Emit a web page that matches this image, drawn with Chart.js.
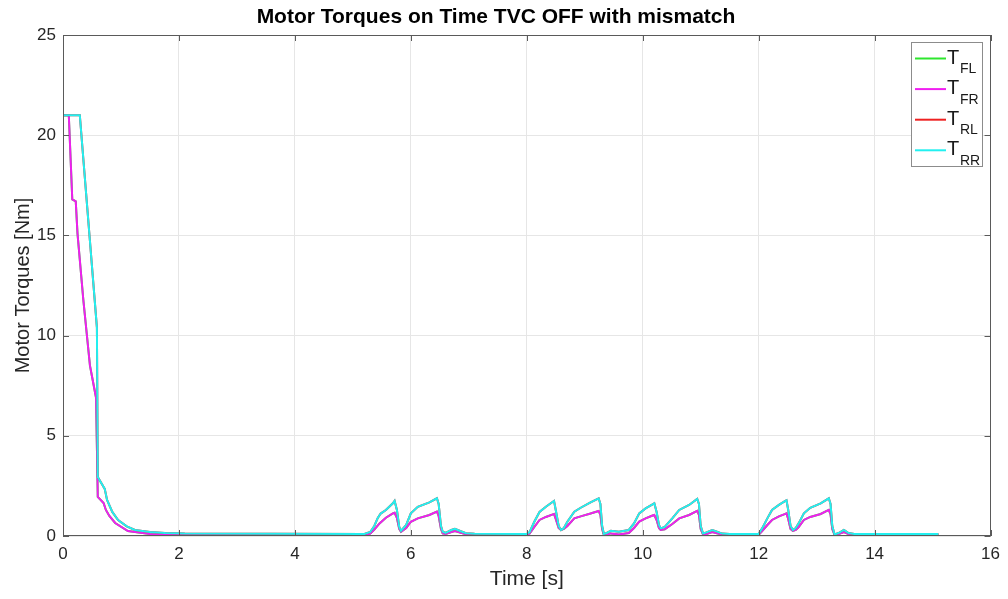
<!DOCTYPE html>
<html>
<head>
<meta charset="utf-8">
<script src="https://cdn.jsdelivr.net/npm/chart.js@4.4.1/dist/chart.umd.min.js"></script>
<style>
  html, body { margin: 0; padding: 0; background: #ffffff; }
  #wrap { width: 1008px; height: 599px; }
</style>
</head>
<body>
<div id="wrap"><canvas id="torques" width="1008" height="599"></canvas></div>
<script>
// Wheel names and line colours (FL, FR, RL, RR)
const wheelNames = ['FL', 'FR', 'RL', 'RR'];
const lineColors = ['#2ee62e', '#f01ef0', '#ee2222', '#22f0f0'];

// Front axle torque trace [s], [Nm]
const timeFront = [
  0, 0.1, 0.16, 0.22, 0.25, 0.35, 0.465, 0.57, 0.6, 0.7, 0.74, 0.8, 0.9, 1.12, 1.5, 2.0, 5.2,
  5.3, 5.37, 5.46, 5.57, 5.69, 5.72, 5.76, 5.8, 5.83, 5.92, 6.0, 6.12, 6.32, 6.45, 6.48, 6.52, 6.55, 6.6, 6.7, 6.76, 6.85, 6.95, 7.1, 8.0,
  8.05, 8.13, 8.22, 8.33, 8.45, 8.47, 8.5, 8.55, 8.59, 8.64, 8.7, 8.82, 8.93, 9.1, 9.24, 9.27, 9.3, 9.33, 9.38, 9.45, 9.59, 9.76,
  9.85, 9.94, 10.05, 10.17, 10.2, 10.24, 10.28, 10.31, 10.38, 10.51, 10.63, 10.8, 10.94, 10.97, 11.0, 11.04, 11.1, 11.2, 11.28, 11.37, 11.5, 12.0,
  12.06, 12.15, 12.23, 12.35, 12.46, 12.48, 12.51, 12.55, 12.59, 12.64, 12.69, 12.78, 12.89, 13.07, 13.21, 13.24, 13.27, 13.31, 13.38, 13.47, 13.55, 13.65, 15.1
];
const torqueFront = [
  21, 21, 16.8, 16.7, 15.1, 11.8, 8.5, 6.9, 1.95, 1.65, 1.3, 1.0, 0.65, 0.25, 0.1, 0.07, 0.06,
  0.12, 0.32, 0.63, 0.91, 1.13, 1.16, 0.9, 0.35, 0.21, 0.4, 0.71, 0.88, 1.05, 1.22, 1.0, 0.35, 0.13, 0.1, 0.2, 0.25, 0.17, 0.09, 0.07, 0.06,
  0.13, 0.45, 0.8, 0.95, 1.08, 1.1, 0.85, 0.4, 0.3, 0.35, 0.5, 0.88, 0.98, 1.12, 1.25, 1.05, 0.35, 0.06, 0.08, 0.13, 0.08, 0.15,
  0.4, 0.72, 0.88, 1.02, 1.05, 0.8, 0.4, 0.3, 0.33, 0.6, 0.88, 1.05, 1.25, 1.05, 0.35, 0.08, 0.1, 0.2, 0.14, 0.07, 0.06, 0.06,
  0.25, 0.55, 0.8, 0.98, 1.1, 1.13, 0.85, 0.35, 0.25, 0.3, 0.45, 0.8, 0.95, 1.1, 1.3, 1.08, 0.35, 0.05, 0.1, 0.2, 0.1, 0.06, 0.06
];

// Rear axle torque trace [s], [Nm]
const timeRear = [
  0, 0.29, 0.585, 0.6, 0.72, 0.76, 0.85, 0.95, 1.1, 1.24, 1.5, 1.76, 2.1, 5.2,
  5.3, 5.37, 5.43, 5.48, 5.57, 5.69, 5.72, 5.76, 5.8, 5.83, 5.92, 6.0, 6.12, 6.32, 6.45, 6.48, 6.52, 6.55, 6.6, 6.7, 6.76, 6.85, 6.95, 7.1, 8.0,
  8.05, 8.13, 8.22, 8.33, 8.45, 8.47, 8.5, 8.55, 8.59, 8.64, 8.7, 8.82, 8.93, 9.1, 9.24, 9.27, 9.3, 9.33, 9.38, 9.45, 9.59, 9.76,
  9.85, 9.94, 10.05, 10.17, 10.2, 10.24, 10.28, 10.31, 10.38, 10.51, 10.63, 10.8, 10.94, 10.97, 11.0, 11.04, 11.1, 11.2, 11.28, 11.37, 11.5, 12.0,
  12.06, 12.15, 12.23, 12.35, 12.46, 12.48, 12.51, 12.55, 12.59, 12.64, 12.69, 12.78, 12.89, 13.07, 13.21, 13.24, 13.27, 13.31, 13.38, 13.47, 13.55, 13.65, 15.1
];
const torqueRear = [
  21, 21, 10.4, 2.95, 2.35, 1.8, 1.2, 0.8, 0.48, 0.3, 0.2, 0.15, 0.12, 0.1,
  0.2, 0.5, 0.9, 1.12, 1.3, 1.63, 1.75, 1.3, 0.45, 0.25, 0.55, 1.13, 1.46, 1.68, 1.88, 1.6, 0.5, 0.21, 0.15, 0.3, 0.36, 0.25, 0.14, 0.11, 0.1,
  0.2, 0.71, 1.2, 1.46, 1.71, 1.75, 1.3, 0.5, 0.3, 0.4, 0.71, 1.21, 1.41, 1.68, 1.88, 1.6, 0.5, 0.1, 0.15, 0.26, 0.21, 0.3,
  0.63, 1.13, 1.38, 1.58, 1.63, 1.2, 0.55, 0.38, 0.45, 0.88, 1.3, 1.55, 1.85, 1.6, 0.5, 0.13, 0.18, 0.3, 0.22, 0.12, 0.1, 0.1,
  0.38, 0.88, 1.3, 1.55, 1.75, 1.78, 1.3, 0.5, 0.3, 0.4, 0.63, 1.13, 1.41, 1.63, 1.88, 1.6, 0.5, 0.08, 0.15, 0.3, 0.15, 0.1, 0.1
];

// Axis ranges and tick steps
const xRange = [0, 16];
const yRange = [0, 25];
const xStep = 2;
const yStep = 5;

const FONT = '"Liberation Sans", Arial, Helvetica, sans-serif';

function toPoints(ts, vs) {
  return ts.map((t, i) => ({ x: t, y: vs[i] }));
}

// Each wheel on an axle shares that axle's trace
const traces = {
  FL: toPoints(timeFront, torqueFront),
  FR: toPoints(timeFront, torqueFront),
  RL: toPoints(timeRear, torqueRear),
  RR: toPoints(timeRear, torqueRear)
};

// Later wheels are drawn on top (lower order = drawn last)
const datasets = wheelNames.map((name, i) => ({
  label: 'T' + name,
  data: traces[name],
  borderColor: lineColors[i],
  backgroundColor: lineColors[i],
  borderWidth: 2,
  pointRadius: 0,
  tension: 0,
  fill: false,
  order: wheelNames.length - i
}));

// Box around the axes with inward tick marks
const axesBox = {
  id: 'axesBox',
  afterDraw(chart) {
    const { ctx, chartArea: a, scales: { x, y } } = chart;
    ctx.save();
    ctx.strokeStyle = '#5a5a5a';
    ctx.lineWidth = 1;
    ctx.strokeRect(Math.round(a.left) + 0.5, Math.round(a.top) + 0.5,
                   Math.round(a.right - a.left) - 1, Math.round(a.bottom - a.top) - 1);
    ctx.beginPath();
    const len = 6;
    x.ticks.forEach(t => {
      const px = Math.round(x.getPixelForValue(t.value)) + 0.5;
      ctx.moveTo(px, a.bottom); ctx.lineTo(px, a.bottom - len);
      ctx.moveTo(px, a.top); ctx.lineTo(px, a.top + len);
    });
    y.ticks.forEach(t => {
      const py = Math.round(y.getPixelForValue(t.value)) + 0.5;
      ctx.moveTo(a.left, py); ctx.lineTo(a.left + len, py);
      ctx.moveTo(a.right, py); ctx.lineTo(a.right - len, py);
    });
    ctx.stroke();
    ctx.restore();
  }
};

// Legend with subscripted wheel names
const keyBox = {
  id: 'keyBox',
  afterDraw(chart) {
    const { ctx, chartArea: a } = chart;
    const w = 71, h = 124;
    const left = Math.round(a.right) - 80, top = Math.round(a.top) + 7;
    ctx.save();
    ctx.fillStyle = '#ffffff';
    ctx.fillRect(left, top, w, h);
    ctx.strokeStyle = '#8c8c8c';
    ctx.lineWidth = 1;
    ctx.strokeRect(left + 0.5, top + 0.5, w, h);
    chart.data.datasets.forEach((ds, i) => {
      const rowY = top + 16.5 + i * 30.6;
      ctx.strokeStyle = ds.borderColor;
      ctx.lineWidth = 2;
      ctx.beginPath();
      ctx.moveTo(left + 4, rowY);
      ctx.lineTo(left + 35, rowY);
      ctx.stroke();
      ctx.fillStyle = '#1a1a1a';
      ctx.textBaseline = 'alphabetic';
      ctx.textAlign = 'left';
      ctx.font = '20px ' + FONT;
      ctx.fillText('T', left + 36, rowY + 5);
      ctx.font = '14px ' + FONT;
      ctx.fillText(wheelNames[i], left + 49, rowY + 14.5);
    });
    ctx.restore();
  }
};

new Chart(document.getElementById('torques'), {
  type: 'line',
  data: { datasets },
  options: {
    responsive: false,
    animation: false,
    events: [],
    parsing: true,
    layout: { padding: { left: 0, right: 16, top: 0, bottom: 0 } },
    plugins: {
      legend: { display: false },
      tooltip: { enabled: false },
      title: {
        display: true,
        text: 'Motor Torques on Time TVC OFF with mismatch',
        color: '#000000',
        font: { family: FONT, size: 21, weight: 'bold', lineHeight: 1.2 },
        padding: { top: 5, bottom: 4.8 }
      }
    },
    scales: {
      x: {
        type: 'linear',
        min: xRange[0],
        max: xRange[1],
        ticks: {
          stepSize: xStep,
          color: '#262626',
          font: { family: FONT, size: 17 },
          padding: 8,
          maxRotation: 0
        },
        grid: { color: '#e6e6e6', lineWidth: 1, drawTicks: false },
        border: { display: false },
        title: {
          display: true,
          text: 'Time [s]',
          color: '#262626',
          font: { family: FONT, size: 21, lineHeight: 1.2 },
          padding: { top: 0, bottom: 7 }
        },
        afterFit(scale) { scale.height = 63; }
      },
      y: {
        type: 'linear',
        min: yRange[0],
        max: yRange[1],
        ticks: {
          stepSize: yStep,
          color: '#262626',
          font: { family: FONT, size: 17 },
          padding: 7
        },
        grid: { color: '#e6e6e6', lineWidth: 1, drawTicks: false },
        border: { display: false },
        title: {
          display: true,
          text: 'Motor Torques [Nm]',
          color: '#262626',
          font: { family: FONT, size: 20, lineHeight: 1.2 },
          padding: { top: 11, bottom: 0 }
        },
        afterFit(scale) { scale.width = 63; }
      }
    }
  },
  plugins: [axesBox, keyBox]
});
</script>
</body>
</html>
